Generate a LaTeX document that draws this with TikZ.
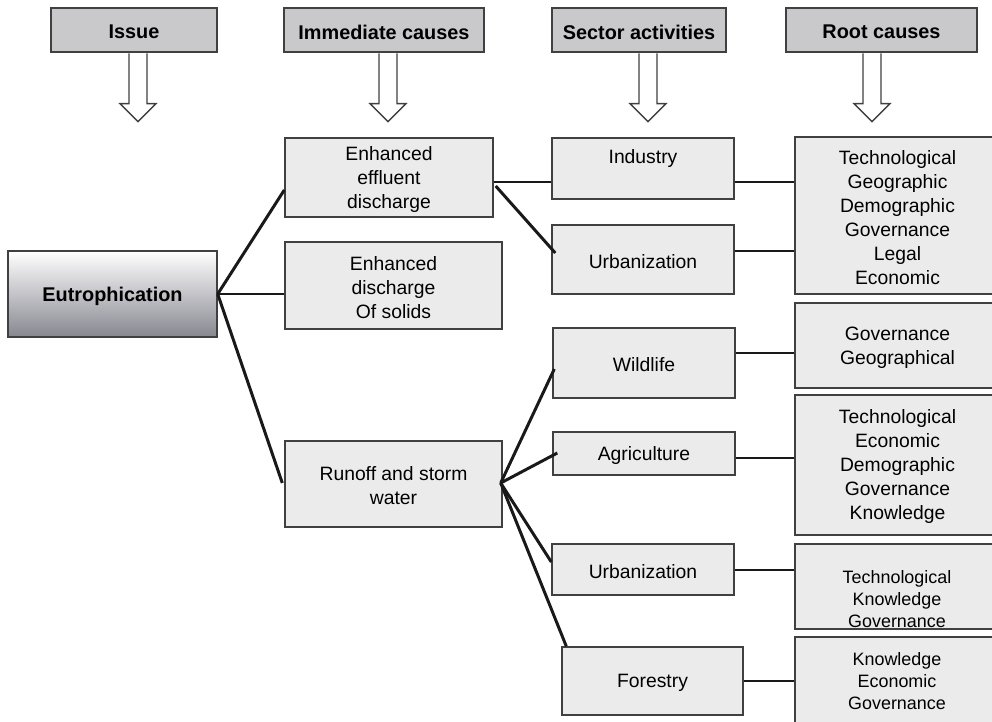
\documentclass[tikz,border=0pt]{standalone}
\usepackage{fontspec}
\setmainfont{Liberation Sans}
\usetikzlibrary{fit,calc}
\definecolor{boxfill}{HTML}{EBEBEB}
\definecolor{headfill}{HTML}{C9C9CC}
\definecolor{edge}{HTML}{404040}
\definecolor{shadebot}{RGB}{135,135,145}

\begin{document}
\begin{tikzpicture}[x=0.02cm,y=-0.02cm,
  frame/.style={draw=edge, line width=0.8pt, inner sep=0pt},
  box/.style={frame, fill=boxfill},
  head/.style={frame, fill=headfill},
  txt/.style={inner sep=0pt, align=center, yshift=-0.04cm, font=\fontsize{11}{13.66}\selectfont},
  boldtxt/.style={inner sep=0pt, yshift=-0.04cm, font=\bfseries\fontsize{11.3}{13}\selectfont},
  smalltxt/.style={txt, font=\fontsize{10.2}{12.5}\selectfont},
  link/.style={line width=1.7pt, draw=black!90},
  hollow/.style={draw=edge, line width=0.8pt, fill=white, line join=miter}]
\useasboundingbox (0,0) rectangle (992,722);
\clip (0,0) rectangle (992,722);

% column headings
\node[head, fit={(51,8)(217,52)},  label={[boldtxt]center:Issue}] (h1) {};
\node[head, fit={(284,8)(484,52)}, label={[boldtxt]center:Immediate causes}] (h2) {};
\node[head, fit={(552,8)(726,52)}, label={[boldtxt]center:Sector activities}] (h3) {};
\node[head, fit={(786,8)(977,52)}, label={[boldtxt]center:Root causes}] (h4) {};

% hollow arrows under the headings
\foreach \h/\dx in {h1/4, h2/4, h3/9, h4/-9.5}{
  \draw[hollow] ($(\h.south)+(\dx,0.7)$) ++(-9,0) -- ++(0,50.3) -- ++(-9,0)
    -- ++(18,18) -- ++(18,-18) -- ++(-9,0) -- ++(0,-50.3);
}

% issue
\node[frame, top color=white, bottom color=shadebot, fit={(8,251)(217,337)},
  label={[boldtxt]center:Eutrophication}] (eu) {};

% immediate causes
\node[box, fit={(285,138)(493,217)}, label={[txt]center:{Enhanced\\effluent\\discharge}}] (ec1) {};
\node[box, fit={(285,242)(502,329)}, label={[txt]center:{Enhanced\\discharge\\Of solids}}] (ec2) {};
\node[box, fit={(285,441)(502,527)}, label={[txt]center:{Runoff and storm\\water}}] (ro) {};

% sector activities
\node[box, fit={(552,138)(734,199)}] (ind) {};
\node[txt] (indt) at (643,157) {Industry};
\node[box, fit={(552,225)(734,294)}, label={[txt]center:Urbanization}] (urb1) {};
\node[box, fit={(553,328)(735,398)}, label={[txt]center:Wildlife}] (wil) {};
\node[box, fit={(553,432)(735,475)}, label={[txt]center:Agriculture}] (agr) {};
\node[box, fit={(552,544)(734,595)}, label={[txt]center:Urbanization}] (urb2) {};
\node[box, fit={(562,647)(743,715)}, label={[txt]center:Forestry}] (for) {};

% root causes
\node[box, fit={(795,137)(1000,294)},
  label={[txt]center:{Technological\\Geographic\\Demographic\\Governance\\Legal\\Economic}}] (r1) {};
\node[box, fit={(795,303)(1000,388)},
  label={[txt]center:{Governance\\Geographical}}] (r2) {};
\node[box, fit={(795,395)(1000,535)},
  label={[txt]center:{Technological\\Economic\\Demographic\\Governance\\Knowledge}}] (r3) {};
\node[box, fit={(795,544)(1000,629)}] (r4) {};
\node[smalltxt] (r4t) at (897,597) {Technological\\Knowledge\\Governance};
\node[box, fit={(795,637)(1000,740)}] (r5) {};
\node[smalltxt] (r5t) at (897,679) {Knowledge\\Economic\\Governance};

% issue to immediate causes
\draw[link] (eu.east) -- ($(ec1.west)+(0,12.5)$);
\draw[link] (eu.east) -- (eu.east -| ec2.west);
\draw[link] (eu.east) -- ($(ro.west)+(-2,-1)$);

% immediate causes to sectors
\coordinate (e1a) at ($(ec1.east)+(0,4.5)$);
\draw[link] (e1a) -- (e1a -| ind.west);
\draw[link] ($(ec1.east)+(2,8.5)$) -- ($(urb1.west)+(4,-6.5)$);
\coordinate (rj) at ($(ro.east)+(-2,-1)$);
\draw[link] (rj) -- ($(wil.west)+(2,6)$);
\draw[link] (rj) -- ($(agr.west)+(5,-0.5)$);
\draw[link] (rj) -- ($(urb2.west)+(0,-7.5)$);
\draw[link] (rj) -- ($(for.north west)+(5,0)$);

% sectors to root causes
\foreach \s/\r/\dy in {ind/r1/13.5, urb1/r1/-8.5, wil/r2/-10, agr/r3/4.5, urb2/r4/0.5, for/r5/0}{
  \coordinate (p) at ($(\s.east)+(0,\dy)$);
  \draw[link] (p) -- (p -| \r.west);
}
\end{tikzpicture}
\end{document}
